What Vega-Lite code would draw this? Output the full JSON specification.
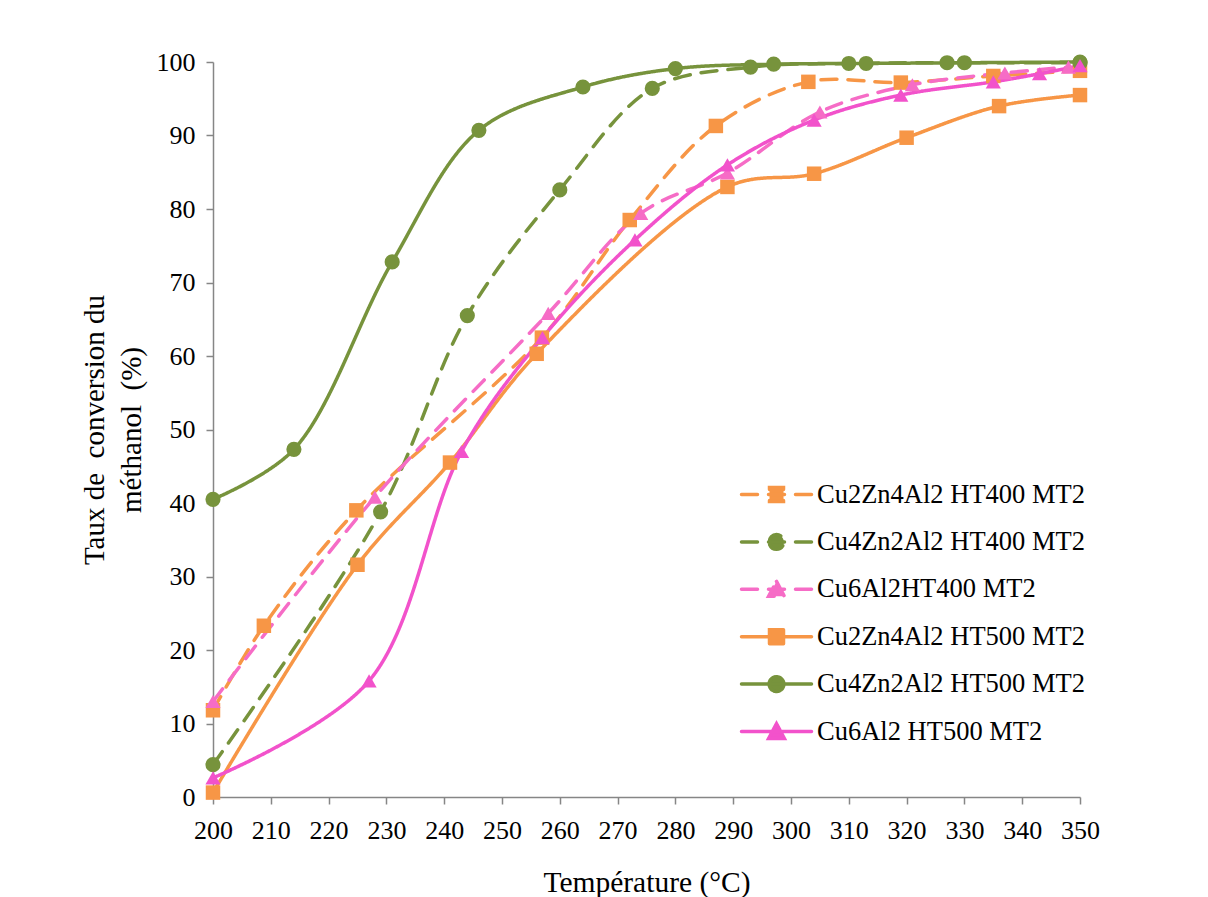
{
  "$schema": "https://vega.github.io/schema/vega-lite/v6.json",
  "width": 867,
  "height": 735,
  "autosize": "none",
  "padding": {"left": 213, "top": 62, "right": 128, "bottom": 100},
  "background": "white",
  "config": {
    "view": {"stroke": null},
    "font": "Liberation Serif"
  },
  "data": {
    "values": [
      {"series": "Cu2Zn4Al2 HT400 MT2", "t": 200, "v": 11.8},
      {"series": "Cu2Zn4Al2 HT400 MT2", "t": 208.8, "v": 23.3},
      {"series": "Cu2Zn4Al2 HT400 MT2", "t": 224.8, "v": 39.0},
      {"series": "Cu2Zn4Al2 HT400 MT2", "t": 256.9, "v": 62.5},
      {"series": "Cu2Zn4Al2 HT400 MT2", "t": 272.1, "v": 78.5},
      {"series": "Cu2Zn4Al2 HT400 MT2", "t": 287, "v": 91.3},
      {"series": "Cu2Zn4Al2 HT400 MT2", "t": 303, "v": 97.3},
      {"series": "Cu2Zn4Al2 HT400 MT2", "t": 319, "v": 97.2},
      {"series": "Cu2Zn4Al2 HT400 MT2", "t": 335, "v": 98.1},
      {"series": "Cu2Zn4Al2 HT400 MT2", "t": 350, "v": 98.8},

      {"series": "Cu4Zn2Al2 HT400 MT2", "t": 200, "v": 4.4},
      {"series": "Cu4Zn2Al2 HT400 MT2", "t": 229, "v": 38.8},
      {"series": "Cu4Zn2Al2 HT400 MT2", "t": 244, "v": 65.5},
      {"series": "Cu4Zn2Al2 HT400 MT2", "t": 260, "v": 82.6},
      {"series": "Cu4Zn2Al2 HT400 MT2", "t": 276, "v": 96.4},
      {"series": "Cu4Zn2Al2 HT400 MT2", "t": 293, "v": 99.3},
      {"series": "Cu4Zn2Al2 HT400 MT2", "t": 310, "v": 99.8},
      {"series": "Cu4Zn2Al2 HT400 MT2", "t": 327, "v": 99.9},
      {"series": "Cu4Zn2Al2 HT400 MT2", "t": 350, "v": 99.9},

      {"series": "Cu6Al2HT400 MT2", "t": 200, "v": 13.0},
      {"series": "Cu6Al2HT400 MT2", "t": 228, "v": 40.8},
      {"series": "Cu6Al2HT400 MT2", "t": 258, "v": 65.8},
      {"series": "Cu6Al2HT400 MT2", "t": 274, "v": 79.4},
      {"series": "Cu6Al2HT400 MT2", "t": 289, "v": 84.9},
      {"series": "Cu6Al2HT400 MT2", "t": 305, "v": 93.2},
      {"series": "Cu6Al2HT400 MT2", "t": 321, "v": 96.9},
      {"series": "Cu6Al2HT400 MT2", "t": 337, "v": 98.5},
      {"series": "Cu6Al2HT400 MT2", "t": 348, "v": 99.3},

      {"series": "Cu2Zn4Al2 HT500 MT2", "t": 200, "v": 0.6},
      {"series": "Cu2Zn4Al2 HT500 MT2", "t": 225, "v": 31.6},
      {"series": "Cu2Zn4Al2 HT500 MT2", "t": 241, "v": 45.5},
      {"series": "Cu2Zn4Al2 HT500 MT2", "t": 256, "v": 60.3},
      {"series": "Cu2Zn4Al2 HT500 MT2", "t": 289, "v": 83.0},
      {"series": "Cu2Zn4Al2 HT500 MT2", "t": 304, "v": 84.8},
      {"series": "Cu2Zn4Al2 HT500 MT2", "t": 320, "v": 89.7},
      {"series": "Cu2Zn4Al2 HT500 MT2", "t": 336, "v": 94.0},
      {"series": "Cu2Zn4Al2 HT500 MT2", "t": 350, "v": 95.5},

      {"series": "Cu4Zn2Al2 HT500 MT2", "t": 200, "v": 40.5},
      {"series": "Cu4Zn2Al2 HT500 MT2", "t": 214, "v": 47.3},
      {"series": "Cu4Zn2Al2 HT500 MT2", "t": 231, "v": 72.8},
      {"series": "Cu4Zn2Al2 HT500 MT2", "t": 246, "v": 90.7},
      {"series": "Cu4Zn2Al2 HT500 MT2", "t": 264, "v": 96.6},
      {"series": "Cu4Zn2Al2 HT500 MT2", "t": 280, "v": 99.1},
      {"series": "Cu4Zn2Al2 HT500 MT2", "t": 297, "v": 99.7},
      {"series": "Cu4Zn2Al2 HT500 MT2", "t": 313, "v": 99.8},
      {"series": "Cu4Zn2Al2 HT500 MT2", "t": 330, "v": 99.9},
      {"series": "Cu4Zn2Al2 HT500 MT2", "t": 350, "v": 100},

      {"series": "Cu6Al2 HT500 MT2", "t": 200, "v": 2.6},
      {"series": "Cu6Al2 HT500 MT2", "t": 227, "v": 15.8},
      {"series": "Cu6Al2 HT500 MT2", "t": 243, "v": 47.0},
      {"series": "Cu6Al2 HT500 MT2", "t": 257, "v": 62.5},
      {"series": "Cu6Al2 HT500 MT2", "t": 273, "v": 75.8},
      {"series": "Cu6Al2 HT500 MT2", "t": 289, "v": 86.0},
      {"series": "Cu6Al2 HT500 MT2", "t": 304, "v": 92.1},
      {"series": "Cu6Al2 HT500 MT2", "t": 319, "v": 95.5},
      {"series": "Cu6Al2 HT500 MT2", "t": 335, "v": 97.3},
      {"series": "Cu6Al2 HT500 MT2", "t": 343, "v": 98.4},
      {"series": "Cu6Al2 HT500 MT2", "t": 350, "v": 99.5}
    ]
  },
  "encoding": {
    "x": {
      "field": "t",
      "type": "quantitative",
      "scale": {"domain": [200, 350], "nice": false, "zero": false},
      "axis": {
        "values": [200, 210, 220, 230, 240, 250, 260, 270, 280, 290, 300, 310, 320, 330, 340, 350],
        "grid": false,
        "domainColor": "#868686",
        "domainWidth": 1.5,
        "tickColor": "#868686",
        "tickWidth": 1.5,
        "tickSize": 7,
        "labelFont": "Liberation Serif",
        "labelFontSize": 26,
        "labelColor": "#000000",
        "labelPadding": 13,
        "labelFlush": false,
        "labelOverlap": false,
        "labelBound": false,
        "title": "Température (°C)",
        "titleFont": "Liberation Serif",
        "titleFontSize": 29.5,
        "titleFontWeight": "normal",
        "titleColor": "#000000",
        "titlePadding": 25
      }
    },
    "y": {
      "field": "v",
      "type": "quantitative",
      "scale": {"domain": [0, 100], "nice": false},
      "axis": {
        "values": [0, 10, 20, 30, 40, 50, 60, 70, 80, 90, 100],
        "grid": false,
        "domainColor": "#868686",
        "domainWidth": 1.5,
        "tickColor": "#868686",
        "tickWidth": 1.5,
        "tickSize": 7,
        "labelFont": "Liberation Serif",
        "labelFontSize": 26,
        "labelColor": "#000000",
        "labelPadding": 11,
        "labelFlush": false,
        "labelOverlap": false,
        "labelBound": false,
        "title": ["Taux de\u00a0 conversion du", "méthanol\u00a0 (%)"],
        "titleFont": "Liberation Serif",
        "titleFontSize": 29,
        "titleFontWeight": "normal",
        "titleColor": "#000000",
        "titleLineHeight": 37,
        "titlePadding": 10
      }
    },
    "color": {
      "field": "series",
      "type": "nominal",
      "sort": null,
      "scale": {
        "domain": ["Cu2Zn4Al2 HT400 MT2", "Cu4Zn2Al2 HT400 MT2", "Cu6Al2HT400 MT2", "Cu2Zn4Al2 HT500 MT2", "Cu4Zn2Al2 HT500 MT2", "Cu6Al2 HT500 MT2"],
        "range": ["#F79646", "#77933C", "#F66CC6", "#F79646", "#77933C", "#F252CB"]
      },
      "legend": {
        "orient": "none",
        "legendX": 544,
        "legendY": 413,
        "title": null,
        "padding": 0,
        "labelFont": "Liberation Serif",
        "labelFontSize": 26.5,
        "labelColor": "#000000",
        "labelLimit": 0,
        "labelOffset": 21,
        "rowPadding": 13.4,
        "symbolSize": 1225,
        "symbolStrokeWidth": 3.5,
        "encode": {
          "symbols": {
            "update": {
              "shape": {"signal": "['M-2,0H2M-0.4,-0.4H0.4V0.4H-0.4Z','M-2,0H2M-0.42,0A0.42,0.42 0 1,1 0.42,0A0.42,0.42 0 1,1 -0.42,0Z','M-2,0H2M0,-0.45L0.45,0.4H-0.45Z'][indexof(domain('color'), datum.value) % 3]"},
              "fill": {"scale": "color", "field": "value"},
              "stroke": {"scale": "color", "field": "value"},
              "strokeDash": {"signal": "indexof(domain('color'), datum.value) < 3 ? [16, 11] : [1, 0]"},
              "strokeCap": {"value": "round"},
              "strokeWidth": {"value": 3.5},
              "opacity": {"value": 1},
              "fillOpacity": {"value": 1},
              "strokeOpacity": {"value": 1}
            }
          }
        }
      }
    }
  },
  "layer": [
    {
      "mark": {"type": "line", "interpolate": "catmull-rom", "strokeWidth": 3.5, "strokeCap": "round"},
      "encoding": {
        "strokeDash": {
          "field": "series",
          "type": "nominal",
          "sort": null,
          "scale": {
            "domain": ["Cu2Zn4Al2 HT400 MT2", "Cu4Zn2Al2 HT400 MT2", "Cu6Al2HT400 MT2", "Cu2Zn4Al2 HT500 MT2", "Cu4Zn2Al2 HT500 MT2", "Cu6Al2 HT500 MT2"],
            "range": [[16, 11], [16, 11], [16, 11], [1, 0], [1, 0], [1, 0]]
          },
          "legend": null
        }
      }
    },
    {
      "transform": [{"filter": {"field": "series", "oneOf": ["Cu2Zn4Al2 HT400 MT2", "Cu2Zn4Al2 HT500 MT2"]}}],
      "mark": {"type": "point", "shape": "square", "filled": true, "size": 210, "opacity": 1}
    },
    {
      "transform": [{"filter": {"field": "series", "oneOf": ["Cu4Zn2Al2 HT400 MT2", "Cu4Zn2Al2 HT500 MT2"]}}],
      "mark": {"type": "point", "shape": "circle", "filled": true, "size": 230, "opacity": 1}
    },
    {
      "transform": [{"filter": {"field": "series", "oneOf": ["Cu6Al2HT400 MT2", "Cu6Al2 HT500 MT2"]}}],
      "mark": {"type": "point", "shape": "triangle-up", "filled": true, "size": 230, "opacity": 1}
    }
  ]
}
